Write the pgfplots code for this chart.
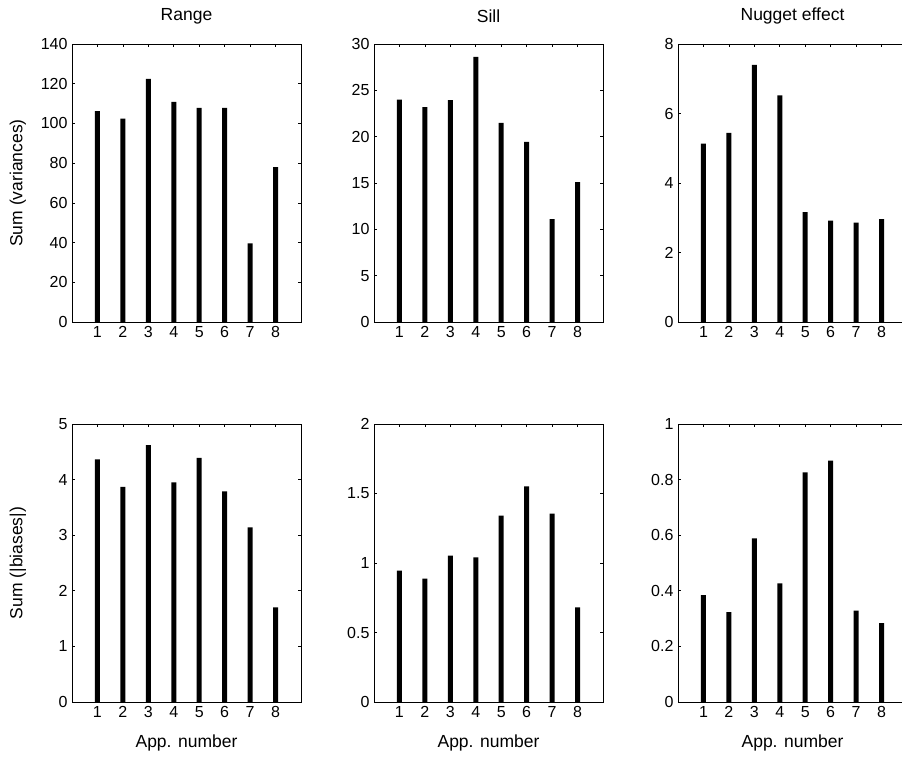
\documentclass[border=0pt]{standalone}
\usepackage{fontspec}
\setmainfont{Liberation Sans}
\usepackage{pgfplots}
\pgfplotsset{compat=1.18}
\newcommand{\tickfont}{\fontsize{16}{19}\selectfont}
\newcommand{\labfont}{\fontsize{17.5}{21}\selectfont}
\pgfplotsset{
  mystyle/.style={
    scale only axis, width=229pt, height=278pt,
    xmin=0, xmax=9, ymin=0,
    xtick={1,...,8},
    tick align=inside, major tick length=3pt,
    axis line style={line width=0.8pt},
    every tick/.style={black, line width=0.6pt},
    /pgf/number format/assume math mode=true,
    scaled y ticks=false,
    tick label style={font=\tickfont},
    yticklabel style={/pgf/number format/fixed, xshift=-1pt},
    xticklabel style={yshift=-1pt},
    title style={font=\labfont, at={(axis description cs:0.5,1.079)}, anchor=center},
    ylabel style={font=\labfont, at={(axis description cs:-0.236,0.5)}, anchor=center},
    xlabel style={font=\labfont, at={(axis description cs:0.5,-0.148)}, anchor=center},
    anchor=south west,
  },
  mybar/.style={ybar, bar width=5pt, fill=black, draw=none},
}
\begin{document}
\begin{tikzpicture}
% top-left
\begin{axis}[mystyle, at={(72pt,435pt)}, ymax=140, ytick={0,20,...,140},
  title={Range}, ylabel={Sum (variances)}]
\addplot[mybar] coordinates {(1,106.2) (2,102.4) (3,122.4) (4,110.8) (5,107.8) (6,107.8) (7,39.6) (8,78.0)};
\end{axis}
% top-middle
\begin{axis}[mystyle, at={(374pt,435pt)}, ymax=30, ytick={0,5,...,30},
  title={Sill}]
\addplot[mybar] coordinates {(1,24.0) (2,23.2) (3,23.95) (4,28.6) (5,21.5) (6,19.45) (7,11.1) (8,15.1)};
\end{axis}
% top-right
\begin{axis}[mystyle, at={(678pt,435pt)}, ymax=8, ytick={0,2,...,8},
  title={Nugget effect}]
\addplot[mybar] coordinates {(1,5.13) (2,5.44) (3,7.40) (4,6.52) (5,3.16) (6,2.92) (7,2.86) (8,2.96)};
\end{axis}
% bottom-left
\begin{axis}[mystyle, at={(72pt,55pt)}, ymax=5, ytick={0,1,...,5},
  ylabel={Sum (|biases|)}, xlabel={App. number}]
\addplot[mybar] coordinates {(1,4.365) (2,3.87) (3,4.62) (4,3.95) (5,4.39) (6,3.79) (7,3.14) (8,1.70)};
\end{axis}
% bottom-middle
\begin{axis}[mystyle, at={(374pt,55pt)}, ymax=2, ytick={0,0.5,1,1.5,2},
  xlabel={App. number}]
\addplot[mybar] coordinates {(1,0.945) (2,0.888) (3,1.053) (4,1.041) (5,1.341) (6,1.552) (7,1.355) (8,0.681)};
\end{axis}
% bottom-right
\begin{axis}[mystyle, at={(678pt,55pt)}, ymax=1, ytick={0,0.2,...,1},
  xlabel={App. number}]
\addplot[mybar] coordinates {(1,0.384) (2,0.323) (3,0.589) (4,0.427) (5,0.826) (6,0.868) (7,0.329) (8,0.284)};
\end{axis}
\pgfresetboundingbox
\path[use as bounding box] (0pt,0pt) rectangle (902pt,757pt);
\end{tikzpicture}
\end{document}
